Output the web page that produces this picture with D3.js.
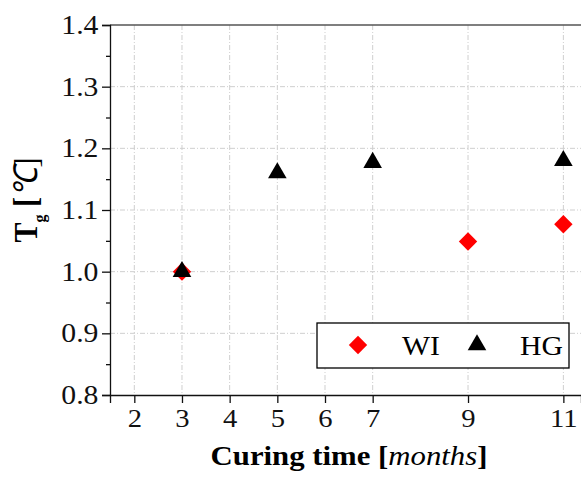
<!DOCTYPE html>
<html>
<head>
<meta charset="utf-8">
<script src="https://cdn.jsdelivr.net/npm/d3@7"></script>
<style>
  body { margin: 0; background: #fff; }
</style>
</head>
<body>
<svg id="chart" width="581" height="477" font-family="Liberation Serif"></svg>
<script>
const xTicks = [2, 3, 4, 5, 6, 7, 9, 11];
const yTicks = [0.8, 0.9, 1.0, 1.1, 1.2, 1.3, 1.4];
const wiMonths = [3, 9, 11];
const wiValues = [1.0, 1.049, 1.077];
const hgMonths = [3, 5, 7, 11];
const hgValues = [1.0, 1.16, 1.177, 1.18];

const svg = d3.select("#chart");
const margin = { top: 25, left: 110, bottom: 82 };
const width = 581 - margin.left;
const height = 477 - margin.top - margin.bottom;

const x = d3.scaleLinear().domain([1.49, 11.37]).range([0, width]);
const y = d3.scaleLinear().domain([0.8, 1.4]).range([height, 0]);

const g = svg.append("g").attr("transform", `translate(${margin.left},${margin.top})`);

// grid
g.selectAll(".vgrid").data(xTicks).enter().append("line")
  .attr("x1", d => x(d)).attr("x2", d => x(d))
  .attr("y1", 0).attr("y2", height)
  .attr("stroke", "#cfcfcf").attr("stroke-width", 1)
  .attr("stroke-dasharray", "5,2,1,2");
g.selectAll(".hgrid").data(yTicks.slice(1, -1)).enter().append("line")
  .attr("x1", 0).attr("x2", width)
  .attr("y1", d => y(d)).attr("y2", d => y(d))
  .attr("stroke", "#cfcfcf").attr("stroke-width", 1)
  .attr("stroke-dasharray", "5,2,1,2");

// top frame
g.append("line").attr("x1", 0).attr("x2", width).attr("y1", 0).attr("y2", 0)
  .attr("stroke", "#555").attr("stroke-width", 1.5);

// y axis
const yAxis = g.append("g")
  .call(d3.axisLeft(y).tickValues(yTicks).tickFormat(d3.format(".1f")).tickSize(8).tickPadding(4));
g.append("g")
  .call(d3.axisLeft(y).tickValues(d3.range(0.85, 1.4, 0.1)).tickFormat("").tickSize(4))
  .select(".domain").remove();

// x axis
const xAxis = g.append("g")
  .attr("transform", `translate(0,${height})`)
  .call(d3.axisBottom(x).tickValues(xTicks).tickFormat(d3.format("d")).tickSize(8).tickPadding(6));

yAxis.attr("font-family", "Liberation Serif").attr("font-size", 27);
xAxis.attr("font-family", "Liberation Serif").attr("font-size", 26);
yAxis.selectAll(".tick text").attr("x", -10.5).attr("transform", "scale(1.1,1)");
xAxis.selectAll(".tick text").attr("transform", "scale(1.1,1)");
svg.selectAll(".tick text").attr("fill", "#111");
svg.selectAll(".domain, .tick line").attr("stroke", "#111").attr("stroke-width", 1.3);

// markers
g.selectAll(".wi").data(wiMonths).enter().append("rect")
  .attr("x", -6.5).attr("y", -6.5).attr("width", 13).attr("height", 13)
  .attr("transform", (d, i) => `translate(${x(d)},${y(wiValues[i])}) rotate(45)`)
  .attr("fill", "#ff0000");
const tri = d3.symbol().type(d3.symbolTriangle).size(150);
g.selectAll(".hg").data(hgMonths).enter().append("path")
  .attr("d", tri)
  .attr("transform", (d, i) => `translate(${x(d)},${y(hgValues[i])})`)
  .attr("fill", "#000");

// legend
const leg = svg.append("g");
leg.append("rect").attr("x", 317).attr("y", 323).attr("width", 252).attr("height", 45)
  .attr("fill", "#fff").attr("stroke", "#000").attr("stroke-width", 1.3);
leg.append("rect").attr("x", -6.5).attr("y", -6.5).attr("width", 13).attr("height", 13)
  .attr("transform", "translate(358,345) rotate(45)").attr("fill", "#ff0000");
leg.append("text").attr("transform", "translate(402,355) scale(1.1,1)").attr("font-size", 27).text("WI");
leg.append("path").attr("d", tri).attr("transform", "translate(477,345)").attr("fill", "#000");
leg.append("text").attr("transform", "translate(520,355) scale(1.1,1)").attr("font-size", 27).text("HG");

// axis labels
const xl = svg.append("text").attr("transform", "translate(349,465) scale(1.14,1)")
  .attr("text-anchor", "middle").attr("font-size", 27).attr("font-weight", "bold");
xl.append("tspan").text("Curing time [");
xl.append("tspan").attr("font-style", "italic").attr("font-weight", "normal").text("months");
xl.append("tspan").text("]");

const yl = svg.append("text").attr("transform", "translate(37,200) scale(1.1,1) rotate(-90)")
  .attr("text-anchor", "middle").attr("font-size", 30).attr("font-weight", "bold");
yl.append("tspan").text("T");
yl.append("tspan").attr("font-size", 16).attr("dy", 7).text("g");
yl.append("tspan").attr("dy", -7).text(" [");
yl.append("tspan").attr("font-style", "italic").attr("font-weight", "normal").text("℃");
yl.append("tspan").attr("font-weight", "normal").text("]");
</script>
</body>
</html>
